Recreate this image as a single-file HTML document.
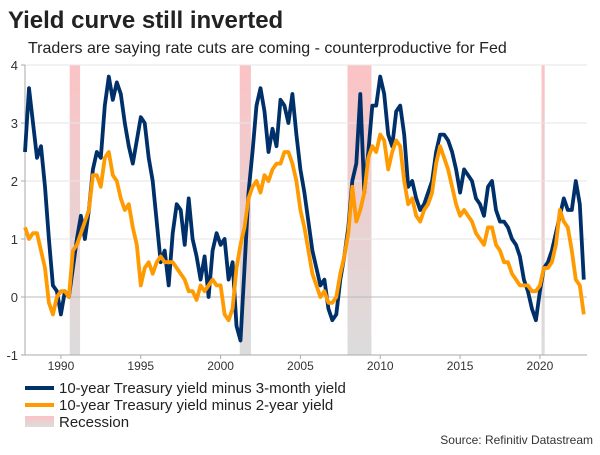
<!DOCTYPE html>
<html><head><meta charset="utf-8"><style>
body{margin:0;width:600px;height:450px;background:#fff;overflow:hidden;font-family:"Liberation Sans",sans-serif}
</style></head><body>
<svg width="600" height="450">
<defs><linearGradient id="rg" x1="0" y1="0" x2="0" y2="1"><stop offset="0" stop-color="#fbc3c5"/><stop offset="1" stop-color="#dcdcdc"/></linearGradient></defs>
<text x="8" y="28" font-size="24" font-weight="bold" fill="#222">Yield curve still inverted</text>
<text x="28" y="53" font-size="16" fill="#222">Traders are saying rate cuts are coming - counterproductive for Fed</text>
<g id="rec"></g><g id="grid"></g><g id="axes"></g><g id="lines"></g>
<g>
<rect x="25" y="386" width="29" height="4" fill="#00306a"/>
<text x="59" y="393" font-size="15" fill="#222">10-year Treasury yield minus 3-month yield</text>
<rect x="25" y="403" width="29" height="4" fill="#ff9a00"/>
<text x="59" y="410" font-size="15" fill="#222">10-year Treasury yield minus 2-year yield</text>
<rect x="25" y="416" width="29" height="11" fill="url(#rg)"/>
<text x="59" y="427" font-size="15" fill="#222">Recession</text>
</g>
<text x="593" y="444" font-size="12" fill="#333" text-anchor="end">Source: Refinitiv Datastream</text>
</svg>
<script>
const startYear = 1987.75;
const stepYear = 0.25;
const spread3m = [2.5,3.6,3.0,2.4,2.6,1.9,1.0,0.2,0.1,
-0.3,0.1,0.0,0.5, 1.0,1.4,1.0,1.5, 2.2,2.5,2.4,3.3, 3.8,3.4,3.7,3.5, 3.0,2.6,2.3,2.7,
3.1,3.0,2.4,2.0, 1.3,0.6,0.8,0.2, 1.1,1.6,1.5,0.9, 1.7,1.0,0.7,0.3, 0.7,0.0,0.8,1.1,
0.9,1.0,0.3,0.6, -0.5,-0.75,0.5,1.8, 2.5,3.3,3.6,3.2, 2.5,2.9,2.6,3.4, 3.3,3.0,3.5,2.8,
2.2,1.8,1.3,0.8, 0.5,0.2,0.3,-0.2, -0.4,-0.3,0.3,0.7, 1.2,2.0,2.3,3.5, 1.8,2.5,3.3,3.3,
3.8,3.5,2.8,2.6, 3.2,3.3,2.8,1.9, 2.0,1.7,1.5,1.6, 1.8,2.0,2.5,2.8, 2.8,2.7,2.5,2.2,
1.8,2.2,2.1,2.0, 1.7,1.6,1.4,1.9, 2.0,1.5,1.3,1.3, 1.2,1.0,0.9,0.7, 0.3,0.1,-0.2,-0.4,
0.1,0.5,0.6,0.8, 1.1,1.4,1.7,1.5, 1.5,2.0,1.6,0.3];
const spread2y = [1.2,1.0,1.1,1.1,0.8,0.5,-0.1,-0.3,0.0,
0.1,0.1,0.0,0.8, 0.9,1.1,1.3,1.5, 2.1,2.1,1.9,2.4, 2.5,2.1,2.0,1.7, 1.5,1.6,1.2,0.9,
0.2,0.5,0.6,0.4, 0.6,0.7,0.6,0.6, 0.6,0.5,0.4,0.3, 0.1,0.1,-0.05,0.2, 0.1,0.2,0.3,0.2,
0.2,-0.3,-0.4,-0.2, 0.5,0.9,1.2,1.7, 1.9,2.0,1.8,2.1, 2.0,2.2,2.3,2.3, 2.5,2.5,2.3,2.0,
1.5,1.2,0.8,0.4, 0.2,0.0,0.1,-0.1, -0.1,0.0,0.4,0.7, 1.1,1.9,1.3,1.5, 1.8,2.4,2.6,2.5,
2.8,2.7,2.2,2.5, 2.7,2.6,2.0,1.6, 1.7,1.4,1.3,1.5, 1.6,1.8,2.3,2.6, 2.4,2.2,1.9,1.6,
1.4,1.5,1.4,1.3, 1.1,1.0,0.9,1.2, 1.2,0.9,0.8,0.6, 0.6,0.4,0.3,0.2, 0.2,0.2,0.1,0.1,
0.2,0.5,0.5,0.6, 0.9,1.5,1.3,1.2, 0.8,0.3,0.2,-0.3];
const recessionStarts = [1990.55, 2001.2, 2007.95, 2020.1];
const recessionEnds = [1991.2, 2001.9, 2009.45, 2020.3];
const yTicks = [-1,0,1,2,3,4];
const xTicks = [1990,1995,2000,2005,2010,2015,2020];

const NS='http://www.w3.org/2000/svg';
const L=25,R=587,T=65,B=355;
function X(v){return L+(v-1987.75)*(R-L)/(2022.95-1987.75);}
function Y(v){return B-(v+1)*(B-T)/5;}
function mk(tag,attrs,parent){const e=document.createElementNS(NS,tag);for(const k in attrs)e.setAttribute(k,attrs[k]);document.getElementById(parent).appendChild(e);return e;}
recessionStarts.forEach((s,i)=>{
 const r=mk('rect',{x:X(s),y:T,width:X(recessionEnds[i])-X(s),height:B-T,fill:'url(#rg)'},'rec');
 
 
});
yTicks.forEach(t=>{
 const g=mk('line',{x1:L,x2:R,y1:Y(t),y2:Y(t),stroke:t===0?'#bbb':(t===-1?'#aaa':'#e6e6e6'),'stroke-width':1},'grid');
 
 
 const tx=mk('text',{x:L-7,y:Y(t)+5,'font-size':13,fill:'#333','text-anchor':'end'},'axes');
 tx.textContent=t;
 
 
 mk('line',{x1:L-4,x2:L,y1:Y(t),y2:Y(t),stroke:'#aaa'},'axes');
});
const ax=mk('line',{x1:L,x2:L,y1:T,y2:B,stroke:'#aaa'},'axes');


xTicks.forEach(t=>{
 mk('line',{x1:X(t),x2:X(t),y1:B,y2:B+4,stroke:'#aaa'},'axes');
 const tx=mk('text',{x:X(t),y:B+15,'font-size':12,fill:'#333','text-anchor':'middle'},'axes');
 tx.textContent=t;
 
 
});
function line(arr,color,name){
 const d=arr.map((v,i)=>(i?'L':'M')+X(startYear+i*stepYear).toFixed(1)+','+Y(v).toFixed(1)).join('');
 const p=mk('path',{d:d,fill:'none',stroke:color,'stroke-width':3.8,'stroke-linejoin':'round'},'lines');
 
 
}
line(spread3m,'#00306a','line-10y-minus-3m');
line(spread2y,'#ff9a00','line-10y-minus-2y');
</script>
</body></html>
